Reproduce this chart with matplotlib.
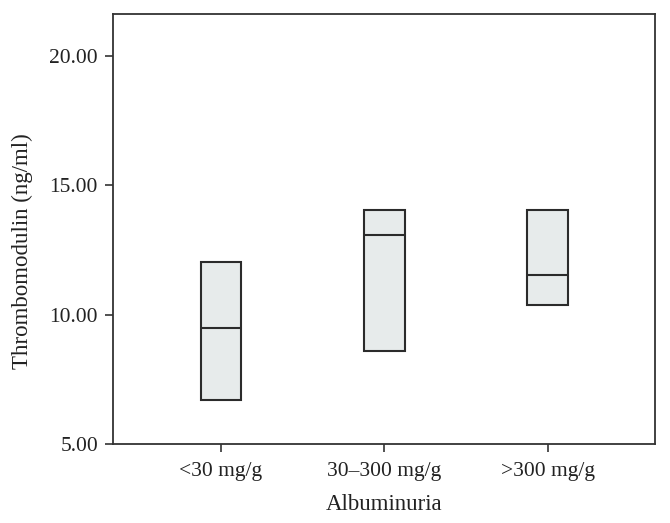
import matplotlib
matplotlib.use("Agg")
import matplotlib.pyplot as plt

categories = ["<30 mg/g", "30\u2013300 mg/g", ">300 mg/g"]
q1_values = [6.70, 8.60, 10.36]
median_values = [9.50, 13.10, 11.52]
q3_values = [12.05, 14.05, 14.05]
y_ticks = [5.0, 10.0, 15.0, 20.0]

plt.rcParams['font.family'] = ['Liberation Serif', 'DejaVu Serif']

fig = plt.figure(figsize=(6.70, 5.23), dpi=100)
ax = fig.add_axes([0.169, 0.151, 0.809, 0.822])

stats = []
for lab, q1, med, q3 in zip(categories, q1_values, median_values, q3_values):
    stats.append(dict(label=lab, q1=q1, med=med, q3=q3, whislo=q1, whishi=q3, fliers=[]))

edge = '#2b2b2b'
ax.bxp(stats, positions=range(len(categories)), widths=0.25, patch_artist=True,
       showcaps=False, showfliers=False,
       boxprops=dict(facecolor='#e7ebeb', edgecolor=edge, linewidth=1.5),
       medianprops=dict(color=edge, linewidth=1.5),
       whiskerprops=dict(color=edge, linewidth=0))

ax.set_xlim(-0.66, 2.66)
ax.set_ylim(5.0, 21.62)
ax.set_yticks(y_ticks)
ax.set_yticklabels([f"{v:.2f}" for v in y_ticks])
ax.set_xticks(range(len(categories)))
ax.set_xticklabels(categories)

for s in ax.spines.values():
    s.set_color('#333333')
    s.set_linewidth(1.3)

ax.tick_params(axis='both', colors='#333333', labelcolor='#222222', labelsize=15.5,
               length=6, width=1.2, direction='out')
ax.tick_params(axis='x', pad=7)
ax.tick_params(axis='y', pad=5)

ax.set_ylabel("Thrombomodulin (ng/ml)", fontsize=16.5, color='#222222')
ax.yaxis.set_label_coords(-0.148, 0.448)
ax.set_xlabel("Albuminuria", fontsize=16.5, color='#222222', labelpad=9)

fig.savefig("out.png", dpi=100)
